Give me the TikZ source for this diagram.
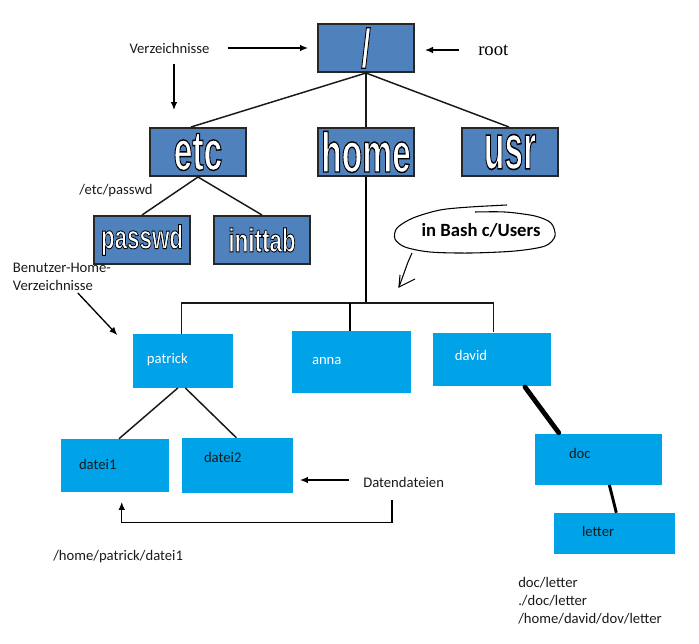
\documentclass[tikz,border=0pt]{standalone}
\usepackage{fontspec}
\setmainfont{Carlito}
\newfontfamily\serifroot{Liberation Serif}
\newfontfamily\bigfont{Liberation Sans}
\usepackage{graphicx}
\usetikzlibrary{arrows.meta,calc}
\definecolor{dblue}{HTML}{4F81BD}
\definecolor{lblue}{HTML}{00A2E8}
\definecolor{txt}{HTML}{1A1A1A}
\newcommand\olstack[2]{{\color{white}\special{pdf:literal direct 2 Tr #1 w 0 G}#2\special{pdf:literal direct 0 Tr}}}
\newcommand\bigtxt[4]{\scalebox{1.05}[#2]{\bigfont\bfseries\fontsize{#1}{#1}\selectfont\olstack{#3}{#4}}}
\tikzset{
  dbox/.style={draw=black!85, line width=1.5pt, fill=dblue, minimum width=72pt, minimum height=36pt, inner sep=0pt},
  lbox/.style={fill=lblue, inner ysep=0pt, align=left, text height=7pt, text depth=2.5pt, font=\fontsize{11}{13.5}\selectfont},
  lbl/.style={font=\fontsize{11}{13.5}\selectfont, text=txt, inner sep=0pt},
  tline/.style={line width=1.1pt, draw=black!90},
  arr/.style={line width=1pt, -{Latex[length=6pt,width=5pt]}},
}
\begin{document}
\begin{tikzpicture}[x=0.75pt,y=-0.75pt]
\useasboundingbox (0,0) rectangle (699,643);
% top level
\node[dbox] (root) at (366,48) {\bigtxt{24}{1.7}{0.6}{/}};
\node[dbox] (etc) at (198,152) {\bigtxt{24}{1.75}{0.6}{etc}};
\node[dbox] (home) at (366,152) {\bigtxt{24}{1.75}{0.6}{home}};
\node[dbox] (usr) at (510,152) {\bigtxt{24}{2.0}{0.6}{usr}};
\node[dbox] (passwd) at (142,240) {\bigtxt{16}{1.55}{0.45}{passwd}};
\node[dbox] (inittab) at (262,240) {\bigtxt{16}{1.55}{0.45}{inittab}};
% user level
\node[lbox, text=white, minimum height=40.3pt, inner xsep=10.5pt, text width=53.8pt] (patrick) at (182.85,360.85) {patrick};
\node[lbox, text=white, minimum height=46.3pt, inner xsep=15pt, text width=59pt] (anna) at (351.35,361.85) {anna};
\node[lbox, text=white, minimum height=39.8pt, inner xsep=16.7pt, text width=55.1pt] (david) at (491.7,359.2) {\raisebox{1.5pt}{david}};
\node[lbox, text=txt, minimum height=39.5pt, inner xsep=13.5pt, text width=54pt] (datei1) at (115,465.35) {\raisebox{-1pt}{datei1}};
\node[lbox, text=txt, minimum height=41pt, inner xsep=16.5pt, text width=50pt] (datei2) at (237.35,465.35) {\raisebox{4.5pt}{datei2}};
\node[lbox, text=txt, minimum height=38pt, inner xsep=25.5pt, text width=44pt] (doc) at (598.35,459.35) {\raisebox{3pt}{doc}};
\node[lbox, text=txt, minimum height=30.75pt, inner xsep=21pt, text width=48.5pt] (letter) at (614.35,533.5) {letter};
% tree lines
\draw[tline] (root.south) -- ($(etc.north)+(-7,0)$);
\draw[tline] (root.south) -- (home.north);
\draw[tline] (root.south) -- ($(usr.north)+(-1,0)$);
\draw[tline] (etc.south) -- (passwd.north);
\draw[tline] (etc.south) -- (inittab.north);
\coordinate (hbar) at (366,303);
\draw[line width=1.6pt] (home.south) -- (hbar);
\coordinate (pstem) at ($(patrick.north west)+(49,0)$);
\coordinate (astem) at ($(anna.north west)+(58,0)$);
\coordinate (dstem) at ($(david.north west)+(61.3,0)$);
\draw[tline] (pstem) |- (hbar) -| (dstem);
\draw[line width=1.4pt] (astem) -- (astem |- hbar);
\draw[tline] ($(patrick.south)+(-5,0)$) -- ($(datei1.north)+(4,0)$);
\draw[tline] ($(patrick.south)+(2.5,0)$) -- ($(datei2.north)+(-1,0)$);
\draw[line width=3.6pt, line cap=round] ($(david.south east)+(-26,1)$) -- ($(doc.north west)+(24,-1)$);
\draw[line width=2.2pt] ($(doc.south)+(11,0)$) -- ($(letter.north)+(2,0)$);
% labels
\node[lbl] (verz) at (169.5,48) {Verzeichnisse};
\node[font=\serifroot\fontsize{14}{16}\selectfont, anchor=west, inner sep=0pt] (rootlbl) at (478,50) {root};
\node[lbl, anchor=west] (etcp) at (79,191) {/etc/passwd};
\node[lbl, anchor=north west, align=left] (benutz) at (12.7,263) {Benutzer-Home-\\Verzeichnisse};
\node[lbl, anchor=west] (dd) at (363,482) {Datendateien};
\node[lbl, anchor=west] (hp) at (53,557) {/home/patrick/datei1};
\node[lbl, anchor=north west, align=left] (paths) at (518,577) {doc/letter\\./doc/letter\\/home/david/dov/letter};
% arrows
\draw[arr] ($(verz.east)+(18,0)$) -- ($(root.west)+(-9,0)$);
\draw[arr] (174,64) -- ($(etc.north -| 174,0)+(0,-17)$);
\draw[arr] ($(rootlbl.west)+(-19,0)$) -- ($(root.east)+(10,2)$);
\coordinate (b2) at (117.3,335);
\draw[arr] ($(benutz.south)+(16,2)$) -- (b2);
\draw[arr] ($(dd.west)+(-14,-2)$) -- ($(datei2.east |- dd.west)+(7,-2)$);
\draw[arr] ($(dd.south west)+(29,13)$) -- ++(0,22) -| ($(datei1.south west)+(61,10)$);
% callout
\node[font=\fontsize{14}{16}\selectfont\bfseries, inner sep=0pt] (callout) at (481,230) {in Bash c/Users};
\draw[line width=0.8pt] plot[smooth] coordinates {(507,205) (470,207) (440,210) (413,218) (397,228) (395,239) (405,247) (430,252) (470,253) (515,251) (545,246) (555,236) (551,223) (535,216) (505,212) (475,212)};
\draw[line width=0.8pt] (412,253) -- (408,262) -- (399,287);
\draw[line width=0.8pt] (400,275) -- (399,287) -- (415,279);
\end{tikzpicture}
\end{document}
